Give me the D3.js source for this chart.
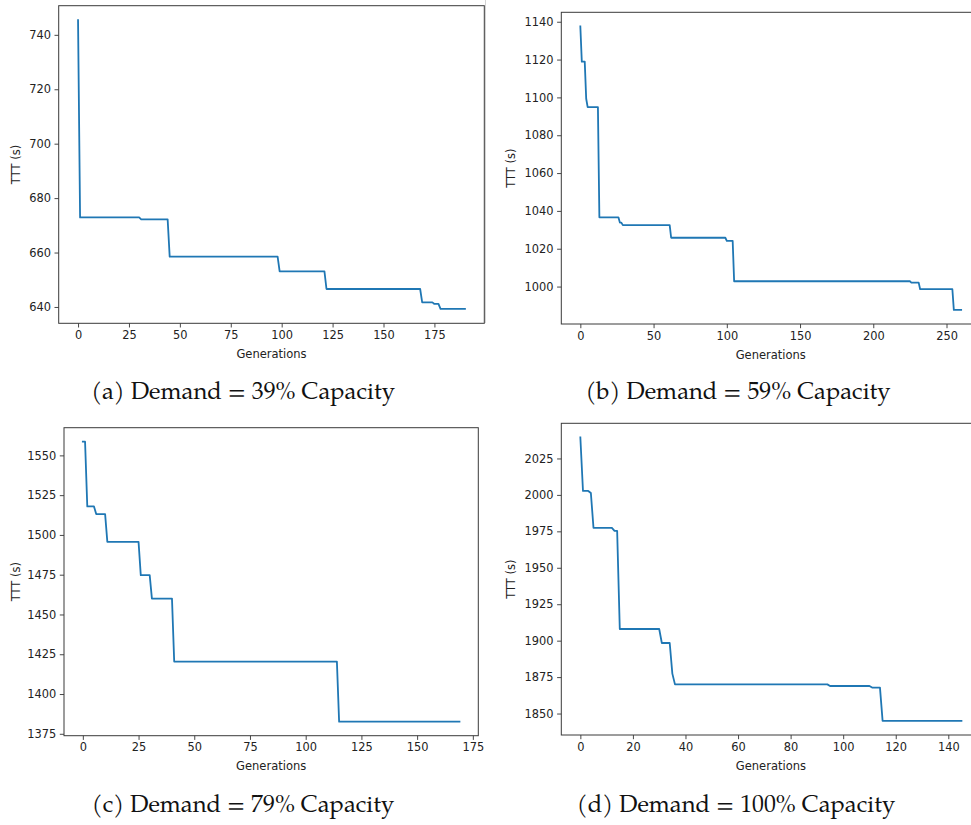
<!DOCTYPE html>
<html>
<head>
<meta charset="utf-8">
<script src="https://cdn.jsdelivr.net/npm/d3@7"></script>
<style>
  html, body { margin: 0; padding: 0; background: #fff; }
  svg { display: block; }
  .tick text { font-family: "DejaVu Sans", sans-serif; font-size: 11.4px; fill: #222; }
  .axis-title { font-family: "DejaVu Sans", sans-serif; font-size: 11.5px; fill: #222; }
  .caption { font-family: "TeX Gyre Pagella", "Palatino Linotype", Palatino, "Liberation Serif", serif; font-size: 23.8px; fill: #111; }
</style>
</head>
<body>
<svg id="fig" width="971" height="825"></svg>
<script>
// Best TTT found per generation (breakpoints of the step curve)
const genA = [0, 1, 30, 31, 44, 45, 98, 99, 121, 122, 168, 169, 174, 175, 177, 178, 190];
const tttA = [745.4, 672.9, 672.9, 672.2, 672.2, 658.5, 658.5, 653.1, 653.1, 646.6, 646.6, 641.7, 641.7, 641.1, 641.1, 639.3, 639.3];

const genB = [0, 1, 3, 4, 5, 12, 13, 26, 27, 28, 29, 61, 62, 99, 100, 104, 105, 225, 226, 231, 232, 254, 255, 260];
const tttB = [1137.5, 1118.9, 1118.9, 1099.3, 1094.9, 1094.9, 1036.6, 1036.6, 1033.8, 1033.8, 1032.5, 1032.5, 1025.8, 1025.8, 1024.2, 1024.2, 1002.8, 1002.8, 1002.1, 1002.1, 998.6, 998.6, 987.7, 987.7];

const genC = [0, 1, 2, 5, 6, 10, 11, 25, 26, 30, 31, 40, 41, 114, 115, 169];
const tttC = [1558.6, 1558.6, 1517.9, 1517.9, 1513.1, 1513.1, 1495.6, 1495.6, 1474.7, 1474.7, 1460, 1460, 1420.4, 1420.4, 1382.6, 1382.6];

const genD = [0, 1, 3, 4, 5, 12, 13, 14, 15, 30, 31, 34, 35, 36, 94, 95, 110, 111, 114, 115, 145];
const tttD = [2039.4, 2002.7, 2002.7, 2001.3, 1977.4, 1977.4, 1975.3, 1975.3, 1908, 1908, 1898.4, 1898.4, 1877.4, 1870, 1870, 1868.9, 1868.9, 1867.8, 1867.8, 1845, 1845];

// Tick labels
const xTicksA = [0, 25, 50, 75, 100, 125, 150, 175];
const yTicksA = [640, 660, 680, 700, 720, 740];
const xTicksB = [0, 50, 100, 150, 200, 250];
const yTicksB = [1000, 1020, 1040, 1060, 1080, 1100, 1120, 1140];
const xTicksC = [0, 25, 50, 75, 100, 125, 150, 175];
const yTicksC = [1375, 1400, 1425, 1450, 1475, 1500, 1525, 1550];
const xTicksD = [0, 20, 40, 60, 80, 100, 120, 140];
const yTicksD = [1850, 1875, 1900, 1925, 1950, 1975, 2000, 2025];

const captions = [
  "(a) Demand = 39% Capacity",
  "(b) Demand = 59% Capacity",
  "(c) Demand = 79% Capacity",
  "(d) Demand = 100% Capacity"
];

// Panel frames: plot box edges, axis-title and caption anchors
const panels = [
  { gen: genA, ttt: tttA, xt: xTicksA, yt: yTicksA, cap: captions[0],
    box: [58.7, 5.7, 484.3, 323.3], xlabY: 358, ylabX: 20, capX: 243, capY: 399 },
  { gen: genB, ttt: tttB, xt: xTicksB, yt: yTicksB, cap: captions[1],
    box: [561.3, 12.3, 980.2, 324], xlabY: 358.5, ylabX: 515, capX: 738, capY: 399 },
  { gen: genC, ttt: tttC, xt: xTicksC, yt: yTicksC, cap: captions[2],
    box: [64, 427.7, 478.3, 735.7], xlabY: 770, ylabX: 19.5, capX: 243, capY: 812 },
  { gen: genD, ttt: tttD, xt: xTicksD, yt: yTicksD, cap: captions[3],
    box: [561.3, 423.3, 980.5, 735], xlabY: 770, ylabX: 515, capX: 736, capY: 812 }
];

const svg = d3.select("#fig");

// faint border of the upper-right figure
svg.append("line")
  .attr("x1", 485.5).attr("x2", 485.5).attr("y1", 0).attr("y2", 323)
  .attr("stroke", "#d4d4d4").attr("stroke-width", 1);

function padded(ext) {
  const p = (ext[1] - ext[0]) * 0.05;
  return [ext[0] - p, ext[1] + p];
}

panels.forEach(p => {
  const [x0, y0, x1, y1] = p.box;
  const x = d3.scaleLinear().domain(padded(d3.extent(p.gen))).range([x0, x1]);
  const y = d3.scaleLinear().domain(padded(d3.extent(p.ttt))).range([y1, y0]);
  const g = svg.append("g");

  const pts = p.gen.map((d, i) => [d, p.ttt[i]]);
  g.append("path")
    .datum(pts)
    .attr("fill", "none")
    .attr("stroke", "#1f77b4")
    .attr("stroke-width", 1.8)
    .attr("stroke-linejoin", "round")
    .attr("stroke-linecap", "square")
    .attr("d", d3.line().x(d => x(d[0])).y(d => y(d[1])));

  const xa = g.append("g")
    .attr("transform", `translate(0,${y1})`)
    .call(d3.axisBottom(x).tickValues(p.xt).tickFormat(d3.format("d")).tickSize(4.2).tickPadding(3.5));
  const ya = g.append("g")
    .attr("transform", `translate(${x0},0)`)
    .call(d3.axisLeft(y).tickValues(p.yt).tickFormat(d3.format("d")).tickSize(4.2).tickPadding(3.5));
  [xa, ya].forEach(a => {
    a.select(".domain").remove();
    a.selectAll(".tick line").attr("stroke", "#333").attr("stroke-width", 0.9);
  });

  // spines
  g.append("rect")
    .attr("x", x0).attr("y", y0)
    .attr("width", x1 - x0).attr("height", y1 - y0)
    .attr("fill", "none").attr("stroke", "#3a3a3a").attr("stroke-width", 1);

  g.append("text").attr("class", "axis-title")
    .attr("x", (x0 + x1) / 2).attr("y", p.xlabY)
    .attr("text-anchor", "middle").text("Generations");

  g.append("text").attr("class", "axis-title")
    .attr("transform", `translate(${p.ylabX},${(y0 + y1) / 2}) rotate(-90)`)
    .attr("text-anchor", "middle").text("TTT (s)");

  svg.append("text").attr("class", "caption")
    .attr("x", p.capX).attr("y", p.capY)
    .attr("text-anchor", "middle").text(p.cap);
});
</script>
</body>
</html>
